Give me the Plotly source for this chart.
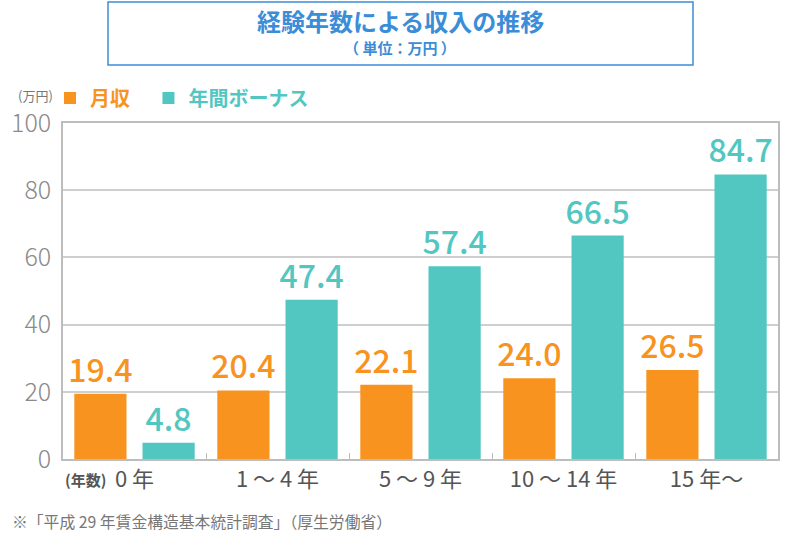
import plotly.graph_objects as go

categories = ["0 年", "1 ～ 4 年", "5 ～ 9 年", "10 ～ 14 年", "15 年～"]
monthly = [19.4, 20.4, 22.1, 24.0, 26.5]
bonus = [4.8, 47.4, 57.4, 66.5, 84.7]
y_ticks = [0, 20, 40, 60, 80, 100]

ORANGE = "#F7931E"
TEAL = "#52C7C2"
BLUE = "#3C8DD8"
FONT = "Noto Sans CJK JP"

fig = go.Figure()
fig.add_trace(go.Bar(
    x=categories, y=monthly,
    name=f"<span style='color:{ORANGE}'><b>月収</b></span>&nbsp;&nbsp;&nbsp;",
    marker=dict(color=ORANGE, line=dict(width=0)),
    text=[f"{v:.1f}" for v in monthly], textposition="outside", constraintext="none",
    textfont=dict(color=ORANGE, size=32, family=FONT, weight=500), cliponaxis=False,
))
fig.add_trace(go.Bar(
    x=categories, y=bonus,
    name=f"<span style='color:{TEAL}'><b>年間ボーナス</b></span>",
    marker=dict(color=TEAL, line=dict(width=0)),
    text=[f"{v:.1f}" for v in bonus], textposition="outside", constraintext="none",
    textfont=dict(color=TEAL, size=32, family=FONT, weight=500), cliponaxis=False,
))

# page pixel -> paper coords (plot area spans page x 63..778, y 123..459)
def px_x(px):
    return (px - 63) / 715

def px_y(py):
    return (459 - py) / 336

fig.update_layout(
    width=800, height=533,
    margin=dict(l=63, r=22, t=123, b=74, autoexpand=False),
    paper_bgcolor="white", plot_bgcolor="white",
    font=dict(family=FONT),
    barmode="group", bargap=0.046, bargroupgap=0.235,
    showlegend=True,
    legend=dict(orientation="h", x=px_x(50), y=px_y(98), xanchor="left", yanchor="middle",
                font=dict(size=20, color="#555"),
                bgcolor="rgba(0,0,0,0)", itemwidth=30),
)
fig.update_xaxes(
    showline=True, linecolor="#BDBDBD", linewidth=1.5, mirror=True,
    tickson="boundaries", ticks="inside", ticklen=6, tickcolor="#BDBDBD",
    tickfont=dict(size=22, color="#555555", family=FONT),
    showgrid=False, automargin=False,
)
fig.update_yaxes(
    range=[0, 100], tickvals=y_ticks, ticktext=[str(v) for v in y_ticks],
    showline=True, linecolor="#BDBDBD", linewidth=1.5, mirror=True,
    showgrid=True, gridcolor="#CFCFCF", gridwidth=1.5,
    tickfont=dict(size=25, color="#8A8A8A", family=FONT, weight=300),
    ticks="", zeroline=False, ticklabelstandoff=5, automargin=False,
)

fig.add_shape(type="rect", xref="paper", yref="paper",
              x0=px_x(108), x1=px_x(693), y0=px_y(65), y1=px_y(2),
              line=dict(color=BLUE, width=1.5), fillcolor="rgba(0,0,0,0)")

def note(text, x, y, size, color, xanchor="center", bold=False):
    fig.add_annotation(text=f"<b>{text}</b>" if bold else text, xref="paper", yref="paper",
                       x=px_x(x), y=px_y(y), xanchor=xanchor, yanchor="middle",
                       showarrow=False, font=dict(size=size, color=color, family=FONT))

note("経験年数による収入の推移", 400, 21, 24, BLUE, bold=True)
note("（ 単位：万円 ）", 400, 48, 15, BLUE, bold=True)
note("(万円)", 35, 95, 13, "#777777")
note("(年数)", 85, 479, 15, "#555555", bold=True)
note("※「平成 29 年賃金構造基本統計調査」（厚生労働省）", 10, 521, 15.8, "#777777", xanchor="left")

fig.write_html("out.html", config={"displayModeBar": False},
               post_script="document.body.style.margin='0';")
